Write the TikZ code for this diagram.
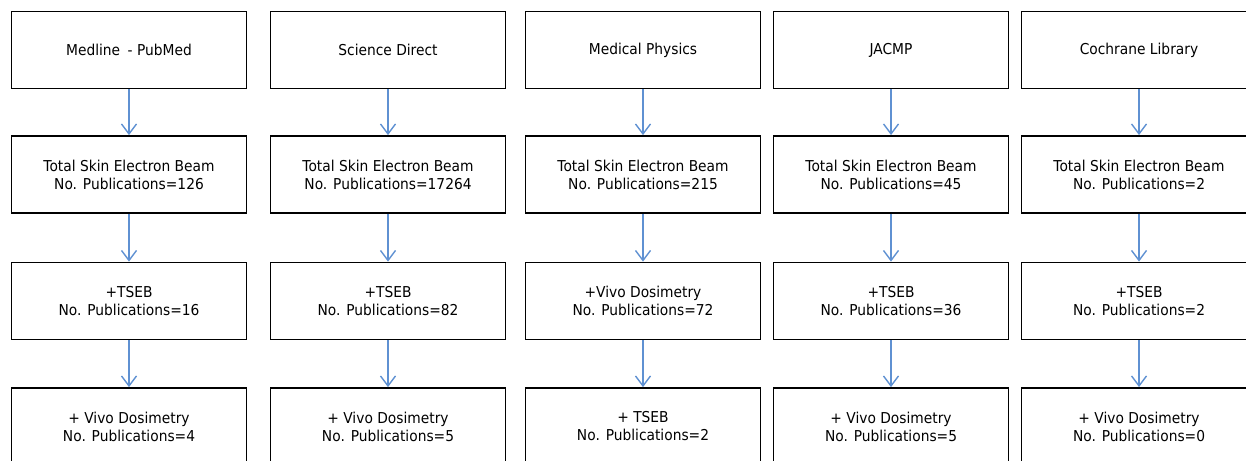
\documentclass[tikz,border=0pt]{standalone}
\usepackage{fontspec}
\setmainfont[FakeStretch=0.92]{DejaVu Sans}
\usetikzlibrary{arrows.meta}
\definecolor{flowblue}{RGB}{95,145,210}
\begin{document}
\begin{tikzpicture}[x=1pt, y=1pt,
  box/.style={draw, line width=1.8pt, minimum width=235pt, minimum height=77pt,
    align=center, inner sep=0pt, font=\fontsize{15}{18}\selectfont},
  flow/.style={draw=flowblue, line width=1.4pt,
    -{Straight Barb[length=10pt,width=15pt,line width=1.4pt]}}]
\useasboundingbox (0,0) rectangle (1246,-460);
\clip (0,0) rectangle (1246,-460);
\foreach \x/\n/\src/\tot/\fst/\nfst/\snd/\nsnd in
  {129/1/Medline\enspace- PubMed/126/+TSEB/16/+ Vivo Dosimetry/4,
   388/2/Science Direct/17264/+TSEB/82/+ Vivo Dosimetry/5,
   643/3/Medical Physics/215/+Vivo Dosimetry/72/+ TSEB/2,
   891/4/JACMP/45/+TSEB/36/+ Vivo Dosimetry/5,
   1139/5/Cochrane Library/2/+TSEB/2/+ Vivo Dosimetry/0}
{
    \node[box] (src\n) at (\x,-50) {\src};
    \node[box] (tot\n) at (\x,-174.5) {Total Skin Electron Beam\\No. Publications=\tot};
    \node[box] (first\n) at (\x,-301) {\fst\\No. Publications=\nfst};
    \node[box] (second\n) at (\x,-426.5) {\snd\\No. Publications=\nsnd};
    \draw[flow] (src\n)--(tot\n);
    \draw[flow] (tot\n)--(first\n);
    \draw[flow] (first\n)--(second\n);
}
\end{tikzpicture}
\end{document}
